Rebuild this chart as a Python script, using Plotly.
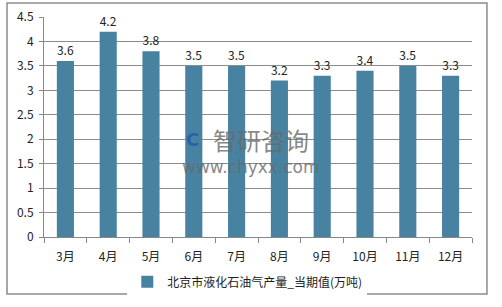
import plotly.graph_objects as go

months = ["3月", "4月", "5月", "6月", "7月", "8月", "9月", "10月", "11月", "12月"]
values = [3.6, 4.2, 3.8, 3.5, 3.5, 3.2, 3.3, 3.4, 3.5, 3.3]
series_name = "北京市液化石油气产量_当期值(万吨)"
y_ticks = [0, 0.5, 1, 1.5, 2, 2.5, 3, 3.5, 4, 4.5]
y_tick_text = ["0", "0.5", "1", "1.5", "2", "2.5", "3", "3.5", "4", "4.5"]

FONT = "Noto Sans CJK SC, Noto Sans, sans-serif"
WM = "rgba(105,105,105,0.8)"

fig = go.Figure()
fig.add_trace(go.Bar(
    x=months, y=values, name=series_name,
    marker=dict(color="#4783A0", line=dict(width=0)),
    width=0.4,
    text=[f"{v:.1f}" for v in values], textposition="outside",
    textfont=dict(size=12, color="#222222", family=FONT),
    cliponaxis=False,
))

fig.update_layout(
    width=502, height=307,
    margin=dict(l=44, r=30, t=17, b=70, autoexpand=False),
    paper_bgcolor="white", plot_bgcolor="white",
    font=dict(family=FONT, size=11, color="#222222"),
    showlegend=True,
    legend=dict(orientation="h", x=0.475, xanchor="center", yref="container",
                y=0.082, yanchor="middle",
                font=dict(size=12, family=FONT, color="#222222"),
                itemwidth=30),
    bargap=0.6,
    xaxis=dict(showline=True, linecolor="#888888", linewidth=1,
               ticks="outside", tickson="boundaries", ticklen=5, tickcolor="#888888",
               ticklabelstandoff=9, automargin=False,
               tickfont=dict(size=12, family=FONT), showgrid=False),
    yaxis=dict(range=[0, 4.5], tickvals=y_ticks, ticktext=y_tick_text,
               showgrid=True, gridcolor="#8C8C8C", gridwidth=1,
               showline=True, linecolor="#888888", linewidth=1,
               ticks="outside", ticklen=4, tickcolor="#888888",
               ticklabelstandoff=3, automargin=False,
               tickfont=dict(size=12, family=FONT), zeroline=False),
    shapes=[dict(type="rect", xref="paper", yref="paper",
                 x0=-0.0864, x1=1.035, y0=-0.259, y1=1.0636,
                 line=dict(color="#8C8C8C", width=1.5), fillcolor="rgba(0,0,0,0)", layer="below")],
    annotations=[
        dict(text="智研咨询", xref="paper", yref="paper", x=0.507, y=0.445,
             xanchor="center", yanchor="middle",
             showarrow=False, font=dict(size=24, color=WM, family=FONT)),
        dict(text="www.chyxx.com", xref="paper", yref="paper", x=0.483, y=0.32,
             xanchor="center", yanchor="middle",
             showarrow=False, font=dict(size=17, color=WM, family="DejaVu Sans")),
        dict(text="<b>C</b>", xref="paper", yref="paper", x=0.348, y=0.445,
             xanchor="center", yanchor="middle",
             showarrow=False, font=dict(size=18, color="rgba(40,90,170,0.85)", family="DejaVu Sans")),
    ],
)

fig.write_html("out.html")
